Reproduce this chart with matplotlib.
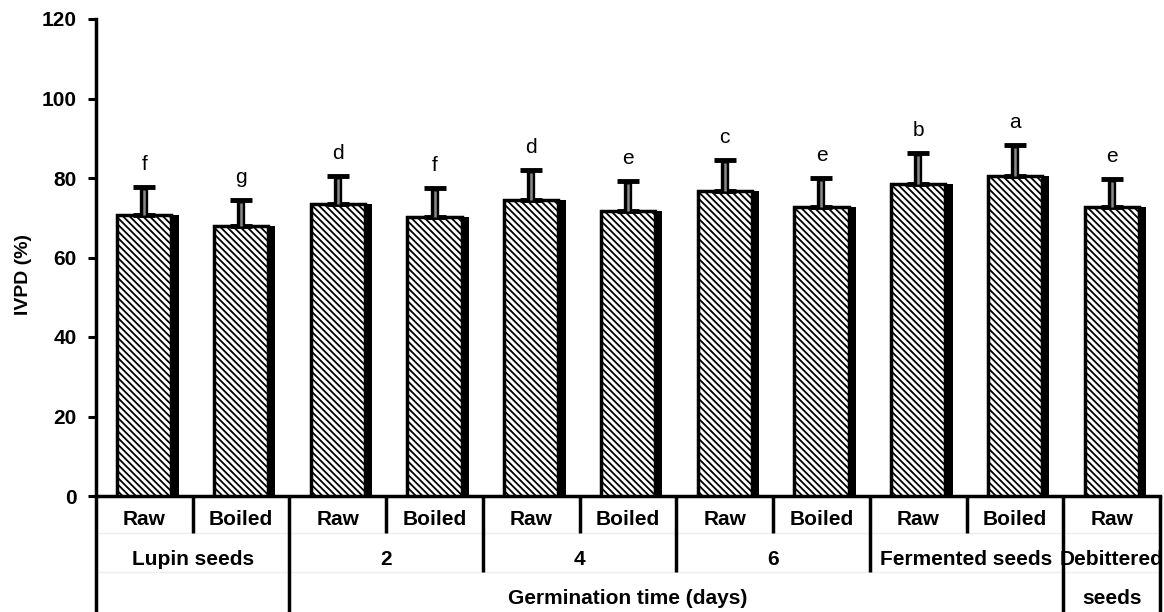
import numpy as np
import matplotlib.pyplot as plt
import matplotlib.transforms as mtransforms

plt.rcParams['font.family'] = ['Liberation Sans', 'DejaVu Sans']
plt.rcParams['hatch.linewidth'] = 1.3

# data
treatments = ['Raw', 'Boiled', 'Raw', 'Boiled', 'Raw', 'Boiled', 'Raw', 'Boiled',
              'Raw', 'Boiled', 'Raw']
ivpd = [70.6, 67.8, 73.5, 70.2, 74.5, 71.7, 76.7, 72.8, 78.6, 80.4, 72.6]
err = [7.1, 6.7, 7.0, 7.3, 7.5, 7.5, 7.8, 7.2, 7.7, 7.9, 7.1]
letters = ['f', 'g', 'd', 'f', 'd', 'e', 'c', 'e', 'b', 'a', 'e']
groups = ['Lupin seeds', '2', '4', '6', 'Fermented seeds', 'Debittered']
group_centers = [0.5, 2.5, 4.5, 6.5, 8.5, 10]
yticks = [0, 20, 40, 60, 80, 100, 120]

x = np.arange(len(ivpd))
w = 0.56
shadow = 0.075
lw_axis = 2.5
fs = 15

fig = plt.figure(figsize=(11.64, 6.12), dpi=100)
ax = fig.add_axes([96 / 1164, 116 / 612, 1064 / 1164, 477 / 612])

# shadow on the right of every bar
ax.bar(x + shadow / 2, ivpd, width=w + shadow, color='black', zorder=2)
ax.bar(x, ivpd, width=w, color='white', edgecolor='black', linewidth=2.5,
       hatch='\\\\\\\\\\', zorder=3)

# error bars (upper only)
ax.errorbar(x, ivpd, yerr=[np.zeros(len(err)), err], fmt='none', ecolor='black',
            elinewidth=6, capsize=8, capthick=3.5, zorder=4)
ax.vlines(x, ivpd, np.array(ivpd) + np.array(err) - 0.7, color='#8a8a8a',
          lw=1.8, zorder=5)

for xi, v, e, lab in zip(x, ivpd, err, letters):
    ax.text(xi, v + e + 3.3, lab, ha='center', va='bottom', fontsize=fs)

ax.set_xlim(-0.5, 10.5)
ax.set_ylim(0, 120)
ax.set_yticks(yticks)
ax.set_yticklabels([str(t) for t in yticks], fontsize=fs, fontweight='bold')
ax.tick_params(axis='y', direction='out', length=6, width=2.2, pad=8)
ax.set_xticks([])
ax.set_ylabel('IVPD (%)', fontsize=14, fontweight='bold')
ax.yaxis.set_label_coords(-0.06, 0.465)

for s in ['top', 'right']:
    ax.spines[s].set_visible(False)
ax.spines['left'].set_linewidth(lw_axis)
ax.spines['bottom'].set_linewidth(lw_axis)

# category table below the axis
trans = mtransforms.blended_transform_factory(ax.transData, ax.transAxes)
y_short, y_mid, y_bot = -0.078, -0.159, -0.245

for b in np.arange(-0.5, 11.0, 1.0):
    if b in (-0.5, 1.5, 9.5, 10.5):
        y_end = y_bot
    elif b in (3.5, 5.5, 7.5):
        y_end = y_mid
    else:
        y_end = y_short
    ax.plot([b, b], [0, y_end], transform=trans, color='black', lw=lw_axis,
            clip_on=False, solid_capstyle='butt')

for yy in (y_short, y_mid):
    ax.plot([-0.5, 10.5], [yy, yy], transform=trans, color='#eeeeee', lw=1,
            clip_on=False, zorder=0)

for xi, t in zip(x, treatments):
    ax.text(xi, -0.050, t, transform=trans, ha='center', va='center',
            fontsize=fs, fontweight='bold')
for gc, g in zip(group_centers, groups):
    ax.text(gc, -0.133, g, transform=trans, ha='center', va='center',
            fontsize=fs, fontweight='bold')
ax.text(10, -0.214, 'seeds', transform=trans, ha='center', va='center',
        fontsize=fs, fontweight='bold')
ax.text(5.0, -0.214, 'Germination time (days)', transform=trans,
        ha='center', va='center', fontsize=fs, fontweight='bold')

fig.savefig('out.png', dpi=100)
